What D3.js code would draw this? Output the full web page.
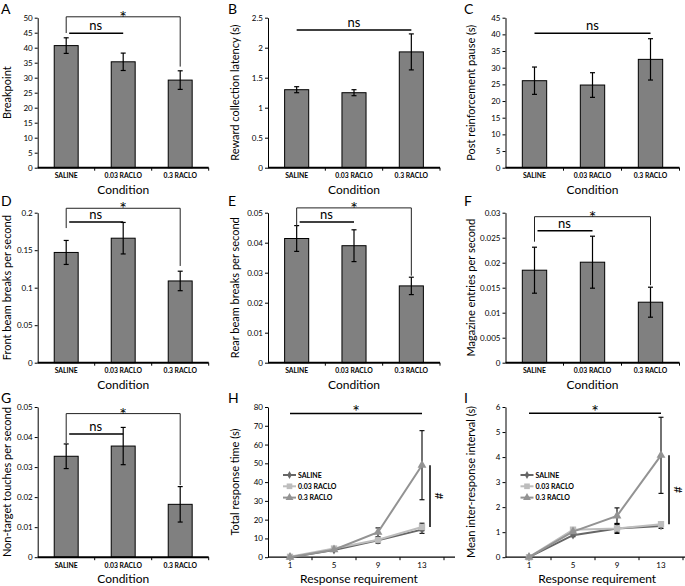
<!DOCTYPE html>
<html>
<head>
<meta charset="utf-8">
<script src="https://cdn.jsdelivr.net/npm/d3@7"></script>
<style>
  body { margin: 0; background: #fff; }
  text { font-family: Lato, "Open Sans", sans-serif; fill: #000; }
</style>
</head>
<body>
<svg id="fig" width="685" height="586"></svg>
<script>
// ---- data ----
const conditions = ["SALINE", "0.03 RACLO", "0.3 RACLO"];
const requirements = ["1", "5", "9", "13"];

// A breakpoint
const breakpointMean = [40.7, 35.3, 29.2];
const breakpointSem = [2.6, 2.9, 3.1];
const breakpointTicks = [0, 5, 10, 15, 20, 25, 30, 35, 40, 45, 50];
// B reward collection latency
const latencyMean = [1.30, 1.25, 1.93];
const latencySem = [0.05, 0.05, 0.30];
const latencyTicks = [0, 0.5, 1, 1.5, 2, 2.5];
// C post reinforcement pause
const pauseMean = [26.1, 24.8, 32.5];
const pauseSem = [4.1, 3.7, 6.2];
const pauseTicks = [0, 5, 10, 15, 20, 25, 30, 35, 40, 45];
// D front beam breaks
const frontMean = [0.147, 0.166, 0.109];
const frontSem = [0.016, 0.021, 0.013];
const frontTicks = [0, 0.05, 0.1, 0.15, 0.2];
// E rear beam breaks
const rearMean = [0.0414, 0.0390, 0.0256];
const rearSem = [0.0043, 0.0053, 0.0029];
const rearTicks = [0, 0.01, 0.02, 0.03, 0.04, 0.05];
// F magazine entries
const magMean = [0.0185, 0.0201, 0.0121];
const magSem = [0.0046, 0.0052, 0.0030];
const magTicks = [0, 0.005, 0.01, 0.015, 0.02, 0.025, 0.03];
// G non-target touches
const touchMean = [0.0336, 0.0370, 0.0176];
const touchSem = [0.0041, 0.0062, 0.0059];
const touchTicks = [0, 0.01, 0.02, 0.03, 0.04, 0.05];
// H total response time
const timeSaline = [0, 3.8, 9.0, 14.7];
const timeSalineSem = [0.1, 0.5, 1.5, 2.0];
const time003 = [0.2, 4.6, 9.3, 16.1];
const time003Sem = [0.1, 0.6, 1.0, 2.0];
const time03 = [0, 4.0, 13.3, 49.0];
const time03Sem = [0.1, 0.6, 2.3, 18.4];
const timeTicks = [0, 10, 20, 30, 40, 50, 60, 70, 80];
// I mean inter-response interval
const iriSaline = [0, 0.88, 1.15, 1.25];
const iriSalineSem = [0.02, 0.06, 0.2, 0.1];
const iri003 = [0, 1.1, 1.15, 1.32];
const iri003Sem = [0.02, 0.08, 0.15, 0.1];
const iri03 = [0, 1.02, 1.65, 4.07];
const iri03Sem = [0.02, 0.1, 0.32, 1.52];
const iriTicks = [0, 1, 2, 3, 4, 5, 6];

// ---- layout ----
const svg = d3.select("#fig");
const cols = [{ x0: 37.7, w: 171, lab: 11, letter: 1 },
              { x0: 268, w: 172, lab: 239, letter: 228 },
              { x0: 505.5, w: 174, lab: 475, letter: 464 }];
const rows = [{ top: 17.7, bot: 167.7, letter: 14 },
              { top: 212.7, bot: 362.7, letter: 206 },
              { top: 407, bot: 557.2, letter: 403 }];

const barPanels = [
  { id: "A", col: 0, row: 0, label: "Breakpoint", mean: breakpointMean, sem: breakpointSem, ticks: breakpointTicks,
    sig: { top: 50.3, ns: 44.8, leftEnd: 44.9, rightEnd: 33.7 } },
  { id: "B", col: 1, row: 0, label: "Reward collection latency (s)", mean: latencyMean, sem: latencySem, ticks: latencyTicks,
    sig: { ns: 2.295 } },
  { id: "C", col: 2, row: 0, label: "Post reinforcement pause (s)", mean: pauseMean, sem: pauseSem, ticks: pauseTicks,
    sig: { ns: 40.3 } },
  { id: "D", col: 0, row: 1, label: "Front beam breaks per second", mean: frontMean, sem: frontSem, ticks: frontTicks,
    sig: { top: 0.2059, ns: 0.1876, leftEnd: 0.1795, rightEnd: 0.129 } },
  { id: "E", col: 1, row: 1, label: "Rear beam breaks per second", mean: rearMean, sem: rearSem, ticks: rearTicks,
    sig: { top: 0.0516, ns: 0.0469, leftEnd: 0.0452, rightEnd: 0.029 } },
  { id: "F", col: 2, row: 1, label: "Magazine entries per second", mean: magMean, sem: magSem, ticks: magTicks,
    sig: { top: 0.0292, ns: 0.0264, leftEnd: 0.0242, rightEnd: 0.0155 } },
  { id: "G", col: 0, row: 2, label: "Non-target touches per second", mean: touchMean, sem: touchSem, ticks: touchTicks,
    sig: { top: 0.0478, ns: 0.041, leftEnd: 0.038, rightEnd: 0.024 } }
];

const seriesStyle = [
  { name: "SALINE", color: "#666666", symbol: d3.symbolDiamond, size: 22 },
  { name: "0.03 RACLO", color: "#bdbdbd", symbol: d3.symbolSquare, size: 40 },
  { name: "0.3 RACLO", color: "#939393", symbol: d3.symbolTriangle, size: 34 }
];

const linePanels = [
  { id: "H", col: 1, row: 2, label: "Total response time (s)", ticks: timeTicks,
    series: [[timeSaline, timeSalineSem], [time003, time003Sem], [time03, time03Sem]], star: 76.6,
    range: [268, 444] },
  { id: "I", col: 2, row: 2, label: "Mean inter-response interval (s)", ticks: iriTicks,
    series: [[iriSaline, iriSalineSem], [iri003, iri003Sem], [iri03, iri03Sem]], star: 5.75,
    range: [507, 683] }
];

function star(g, x, y) {
  g.append("text").attr("x", x).attr("y", y).attr("text-anchor", "middle")
    .attr("font-size", 18).attr("fill", "#000").text("*");
}

function yAxisAndLabels(g, p, c, r, y) {
  const ax = g.append("g").attr("transform", `translate(${c.x0},0)`)
    .call(d3.axisLeft(y).tickValues(p.ticks).tickFormat(d => String(d)).tickSize(3).tickSizeOuter(0));
  ax.select(".domain").attr("stroke", "#000");
  ax.selectAll(".tick line").attr("stroke", "#000");
  ax.selectAll(".tick text").attr("font-size", 8).attr("x", -5).attr("font-family", "Lato, sans-serif");
  g.append("text").attr("transform", `translate(${c.lab},${(r.top + r.bot) / 2}) rotate(-90)`)
    .attr("text-anchor", "middle").attr("font-size", 11).text(p.label);
  g.append("text").attr("x", c.letter).attr("y", r.letter).attr("font-size", 14).text(p.id);
}

function barPanel(p) {
  const c = cols[p.col], r = rows[p.row];
  const g = svg.append("g");
  const x = d3.scaleBand().domain(conditions).range([c.x0, c.x0 + c.w]).paddingInner(0.58).paddingOuter(0.29);
  const y = d3.scaleLinear().domain([0, d3.max(p.ticks)]).range([r.bot, r.top]);
  const cx = i => x(conditions[i]) + x.bandwidth() / 2;

  g.selectAll("rect").data(p.mean).join("rect")
    .attr("x", (d, i) => x(conditions[i])).attr("y", d => y(d))
    .attr("width", x.bandwidth()).attr("height", d => r.bot - y(d))
    .attr("fill", "#808080").attr("stroke", "#000").attr("stroke-width", 1);

  // error bars
  const eb = g.selectAll("g.err").data(p.mean).join("g").attr("class", "err")
    .attr("stroke", "#000").attr("stroke-width", 1.2);
  eb.append("line").attr("x1", (d, i) => cx(i)).attr("x2", (d, i) => cx(i))
    .attr("y1", (d, i) => y(d + p.sem[i])).attr("y2", (d, i) => y(d - p.sem[i]));
  eb.append("line").attr("x1", (d, i) => cx(i) - 2.5).attr("x2", (d, i) => cx(i) + 2.5)
    .attr("y1", (d, i) => y(d + p.sem[i])).attr("y2", (d, i) => y(d + p.sem[i]));
  eb.append("line").attr("x1", (d, i) => cx(i) - 2.5).attr("x2", (d, i) => cx(i) + 2.5)
    .attr("y1", (d, i) => y(d - p.sem[i])).attr("y2", (d, i) => y(d - p.sem[i]));

  yAxisAndLabels(g, p, c, r, y);

  // x axis
  g.append("line").attr("x1", c.x0).attr("x2", c.x0 + c.w).attr("y1", r.bot).attr("y2", r.bot)
    .attr("stroke", "#000").attr("stroke-width", 2);
  g.selectAll("line.xt").data(d3.range(1, conditions.length + 1)).join("line").attr("class", "xt")
    .attr("x1", i => c.x0 + i * x.step()).attr("x2", i => c.x0 + i * x.step())
    .attr("y1", r.bot).attr("y2", r.bot + 3).attr("stroke", "#000");
  g.selectAll("text.cat").data(conditions).join("text").attr("class", "cat")
    .attr("x", (d, i) => cx(i)).attr("y", r.bot + 10.5).attr("text-anchor", "middle")
    .attr("font-size", 6.8).attr("font-weight", 700).text(d => d);
  g.append("text").attr("x", c.x0 + c.w / 2).attr("y", r.bot + 26).attr("text-anchor", "middle")
    .attr("font-size", 12).text("Condition");

  // significance
  const s = p.sig;
  if (s.top !== undefined) {
    g.append("path").attr("fill", "none").attr("stroke", "#222").attr("stroke-width", 1)
      .attr("d", `M${cx(0)},${y(s.leftEnd)}V${y(s.top)}H${cx(2)}V${y(s.rightEnd)}`);
    g.append("line").attr("x1", cx(0) + 3).attr("x2", cx(1)).attr("y1", y(s.ns)).attr("y2", y(s.ns))
      .attr("stroke", "#000").attr("stroke-width", 1.5);
    g.append("text").attr("x", (cx(0) + cx(1)) / 2 + 1).attr("y", y(s.ns) - 3).attr("text-anchor", "middle")
      .attr("font-size", 13).text("ns");
    star(g, (cx(0) + cx(2)) / 2, y(s.top) + 7);
  } else {
    g.append("line").attr("x1", cx(0)).attr("x2", cx(2)).attr("y1", y(s.ns)).attr("y2", y(s.ns))
      .attr("stroke", "#000").attr("stroke-width", 1.5);
    g.append("text").attr("x", cx(1)).attr("y", y(s.ns) - 3).attr("text-anchor", "middle")
      .attr("font-size", 13).text("ns");
  }
}

function linePanel(p) {
  const c = cols[p.col], r = rows[p.row];
  const g = svg.append("g");
  const x = d3.scaleBand().domain(requirements).range(p.range).padding(0);
  const y = d3.scaleLinear().domain([0, d3.max(p.ticks)]).range([r.bot, r.top]);
  const cx = i => x(requirements[i]) + x.bandwidth() / 2;

  yAxisAndLabels(g, p, c, r, y);

  // x axis
  g.append("line").attr("x1", c.x0).attr("x2", p.range[1] + 11).attr("y1", r.bot).attr("y2", r.bot)
    .attr("stroke", "#000").attr("stroke-width", 1.2);
  g.selectAll("line.xt").data(d3.range(1, requirements.length + 1)).join("line").attr("class", "xt")
    .attr("x1", i => p.range[0] + i * x.step()).attr("x2", i => p.range[0] + i * x.step())
    .attr("y1", r.bot).attr("y2", r.bot + 3).attr("stroke", "#000");
  g.selectAll("text.cat").data(requirements).join("text").attr("class", "cat")
    .attr("x", (d, i) => cx(i)).attr("y", r.bot + 11).attr("text-anchor", "middle")
    .attr("font-size", 8).text(d => d);
  g.append("text").attr("x", (c.x0 + p.range[1]) / 2 + 3).attr("y", r.bot + 25.5).attr("text-anchor", "middle")
    .attr("font-size", 12).text("Response requirement");

  // error bars
  p.series.forEach(([vals, sem]) => {
    const eb = g.append("g").attr("stroke", "#000").attr("stroke-width", 1.1);
    vals.forEach((v, i) => {
      eb.append("line").attr("x1", cx(i)).attr("x2", cx(i)).attr("y1", y(v + sem[i])).attr("y2", y(Math.max(0, v - sem[i])));
      eb.append("line").attr("x1", cx(i) - 2.5).attr("x2", cx(i) + 2.5).attr("y1", y(v + sem[i])).attr("y2", y(v + sem[i]));
      eb.append("line").attr("x1", cx(i) - 2.5).attr("x2", cx(i) + 2.5).attr("y1", y(Math.max(0, v - sem[i]))).attr("y2", y(Math.max(0, v - sem[i])));
    });
  });

  // lines + markers
  const line = d3.line().x((d, i) => cx(i)).y(d => y(d));
  p.series.forEach(([vals], k) => {
    const st = seriesStyle[k];
    g.append("path").datum(vals).attr("d", line).attr("fill", "none")
      .attr("stroke", st.color).attr("stroke-width", 2);
    g.selectAll(null).data(vals).join("path")
      .attr("transform", (d, i) => `translate(${cx(i)},${y(d)})`)
      .attr("d", d3.symbol(st.symbol, st.size)).attr("fill", st.color);
  });

  // legend
  const lx = c.x0 + 15, ly = r.top + 68;
  seriesStyle.forEach((st, k) => {
    const yy = ly + k * 11.3;
    g.append("line").attr("x1", lx).attr("x2", lx + 13).attr("y1", yy).attr("y2", yy)
      .attr("stroke", st.color).attr("stroke-width", 2);
    g.append("path").attr("transform", `translate(${lx + 6.5},${yy})`)
      .attr("d", d3.symbol(st.symbol, st.size * 0.8)).attr("fill", st.color);
    g.append("text").attr("x", lx + 15).attr("y", yy + 2.5).attr("font-size", 7).attr("font-weight", 700).text(st.name);
  });

  // significance
  const n = requirements.length - 1;
  g.append("line").attr("x1", cx(0)).attr("x2", cx(n)).attr("y1", y(p.star)).attr("y2", y(p.star))
    .attr("stroke", "#000").attr("stroke-width", 1.5);
  star(g, (cx(0) + cx(n)) / 2, y(p.star) + 5);
  const hi = p.series[2][0][n], lo = p.series[1][0][n];
  g.append("line").attr("x1", cx(n) + 8).attr("x2", cx(n) + 8).attr("y1", y(hi)).attr("y2", y(lo))
    .attr("stroke", "#000").attr("stroke-width", 1.5);
  g.append("text").attr("transform", `translate(${cx(n) + 17},${(y(hi) + y(lo)) / 2}) rotate(90)`)
    .attr("text-anchor", "middle").attr("dominant-baseline", "central").attr("font-size", 12).text("#");
}

barPanels.forEach(barPanel);
linePanels.forEach(linePanel);
</script>
</body>
</html>
